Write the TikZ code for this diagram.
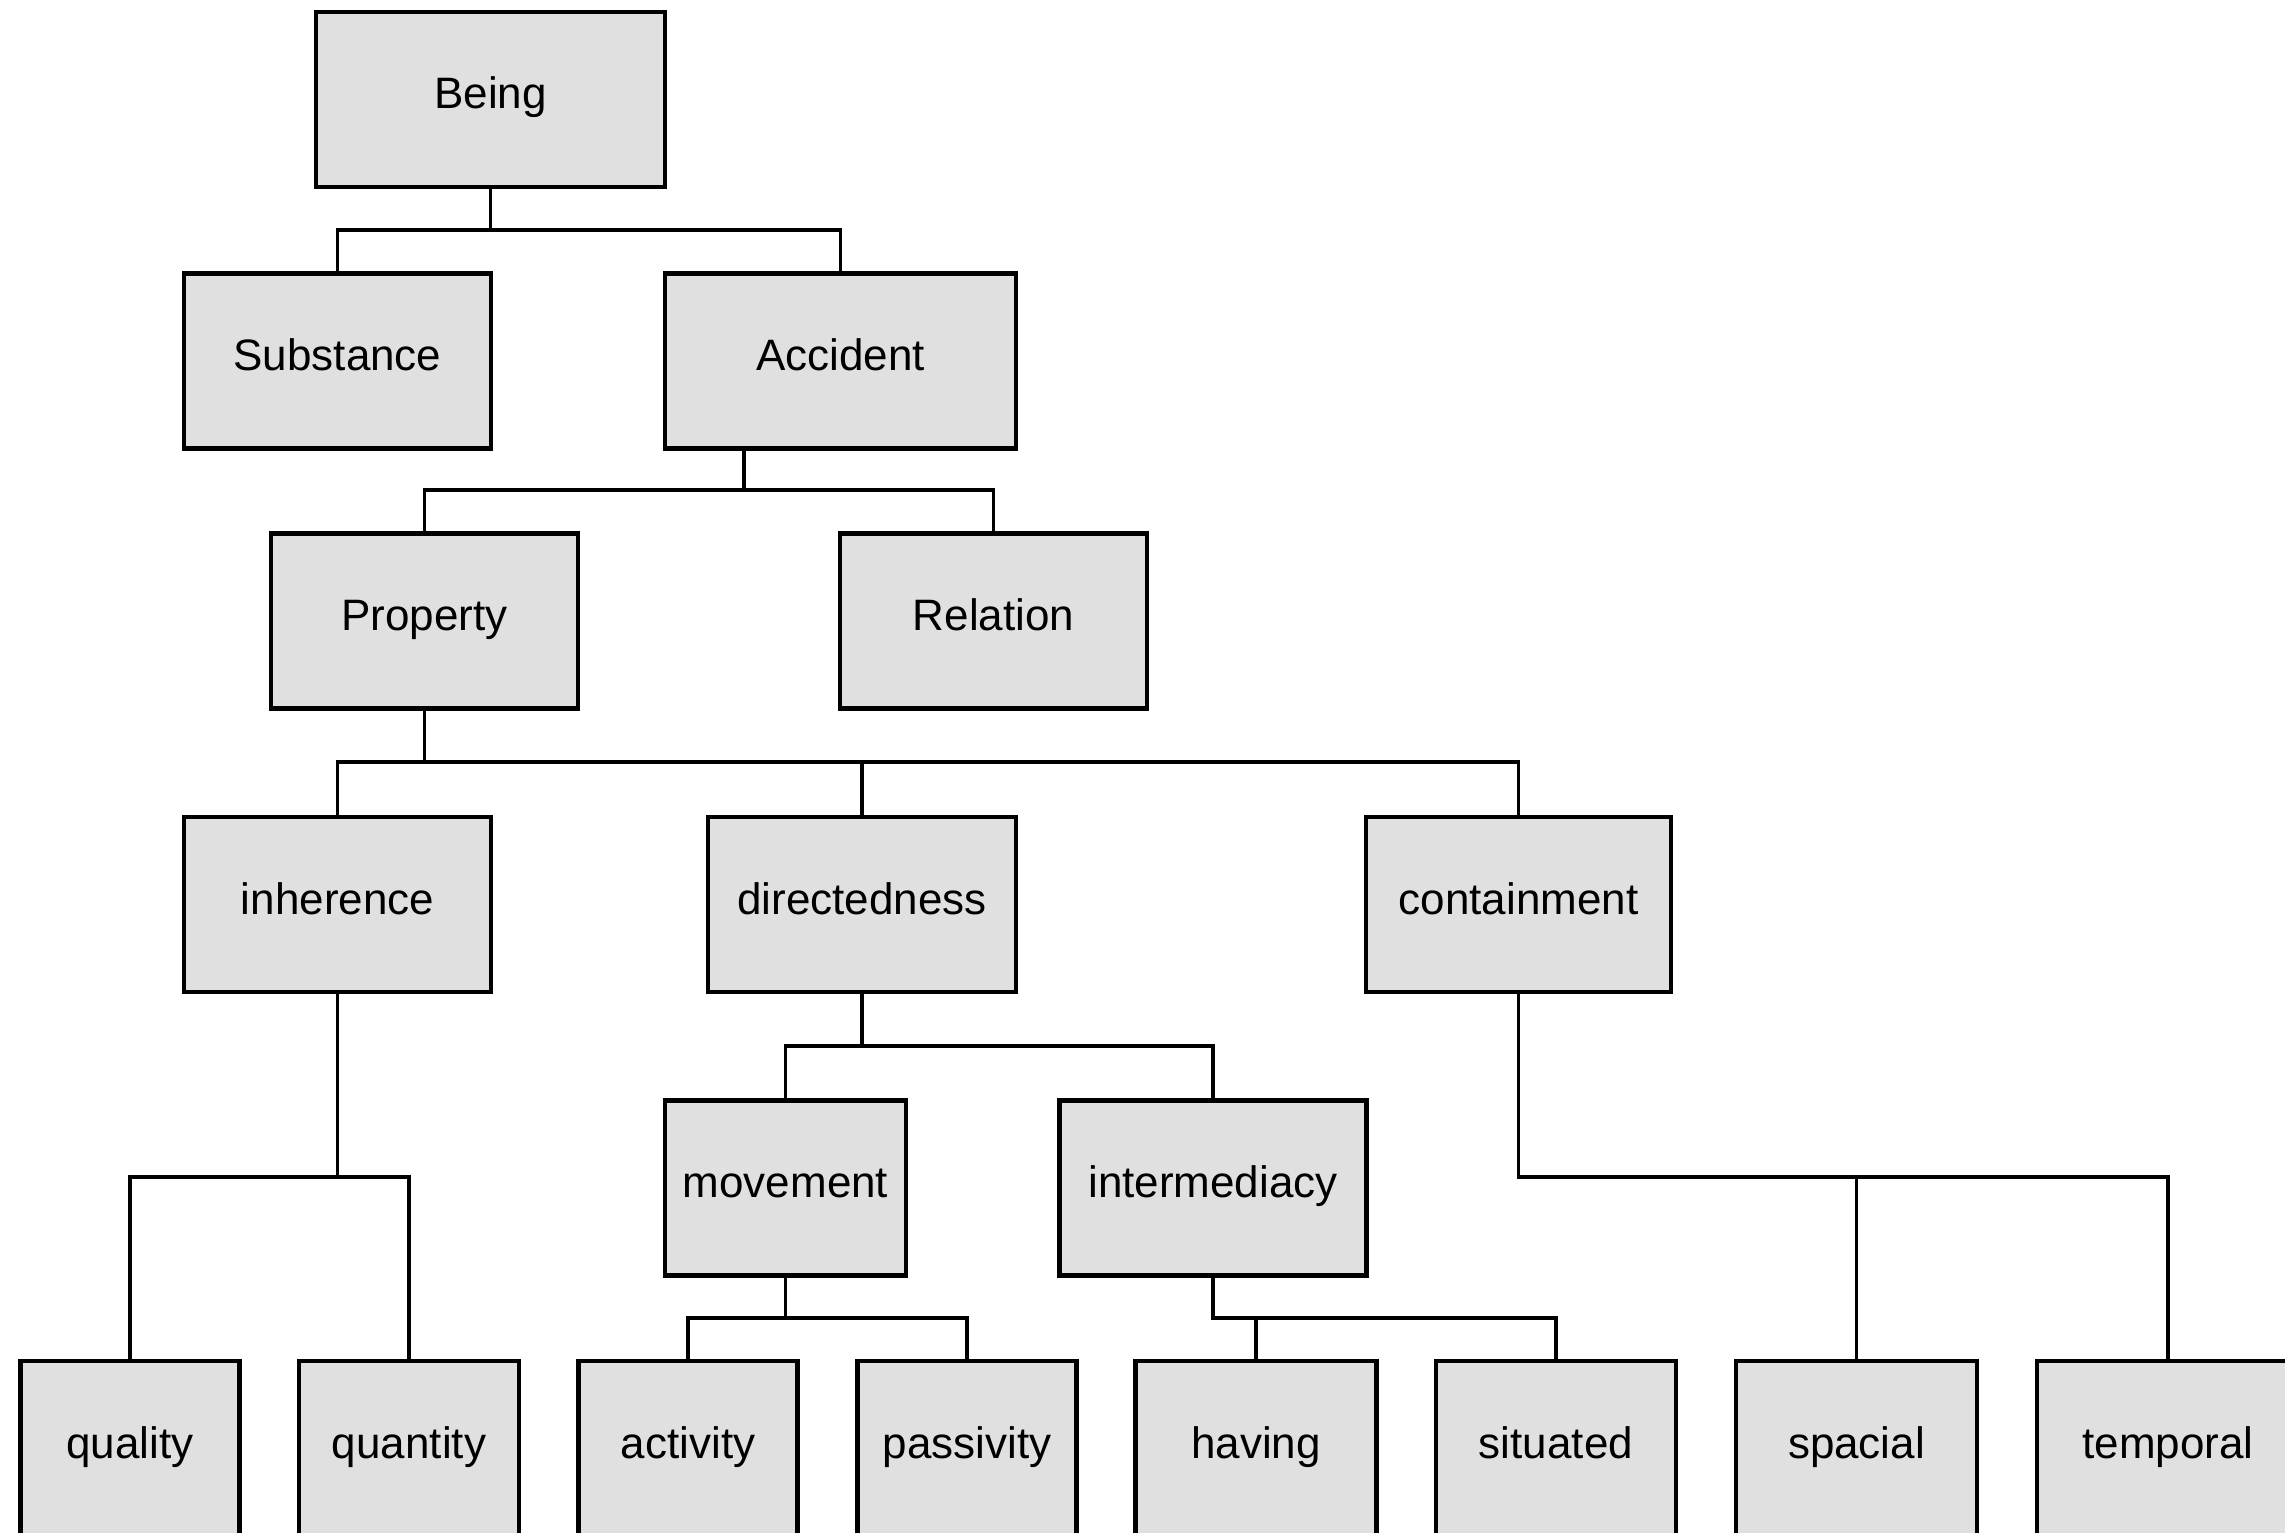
\documentclass[tikz,border=0pt]{standalone}
\usepackage{fontspec}
\setmainfont{Liberation Sans}
\begin{document}
\begin{tikzpicture}[x=1bp,y=-1bp,
  box/.style={draw=black, fill=boxgray, line width=4.2bp, rectangle,
    minimum height=175bp, inner sep=0pt, outer sep=0pt,
    text height=31bp, text depth=12bp,
    font=\fontsize{44bp}{50bp}\selectfont},
  link/.style={draw=black, line width=3.6bp, line join=miter, line cap=rect}]
\definecolor{boxgray}{HTML}{E0E0E0}
\useasboundingbox (0,0) rectangle (2285,1532);
\clip (0,0) rectangle (2285,1532);

% level 0-2
\node[box, minimum width=349bp] (being)     at (490.5,99.5) {Being};
\node[box, minimum width=307bp] (substance) at (337.5,361)  {Substance};
\node[box, minimum width=351bp] (accident)  at (840.5,361)  {Accident};
\node[box, minimum width=307bp] (property)  at (424.5,621)  {Property};
\node[box, minimum width=307bp] (relation)  at (993.5,621)  {Relation};

% level 3
\node[box, minimum width=307bp] (inherence)    at (337.5,904.5) {inherence};
\node[box, minimum width=308bp] (directedness) at (862,904.5)   {directedness};
\node[box, minimum width=305bp] (containment)  at (1518.5,904.5) {containment};

% level 4
\node[box, minimum width=241bp] (movement)     at (785.5,1188) {movement};
\node[box, minimum width=307bp] (intermediacy) at (1213,1188)  {intermediacy};

% bottom row
\node[box, minimum width=219bp] (quality)   at (130,1448.5)    {quality};
\node[box, minimum width=220bp] (quantity)  at (409,1448.5)    {quantity};
\node[box, minimum width=219bp] (activity)  at (688,1448.5)    {activity};
\node[box, minimum width=219bp] (passivity) at (967,1448.5)    {passivity};
\node[box, minimum width=241bp] (having)    at (1256,1448.5)   {having};
\node[box, minimum width=240bp] (situated)  at (1556,1448.5)   {situated};
\node[box, minimum width=241bp] (spacial)   at (1856.5,1448.5) {spacial};
\node[box, minimum width=262bp] (temporal)  at (2168,1448.5)   {temporal};

% bus levels
\coordinate (busA) at (0,230);
\coordinate (busB) at (744,490);
\coordinate (busC) at (0,762);
\coordinate (busD) at (0,1046);
\coordinate (busE) at (0,1177);
\coordinate (busF) at (0,1318);

% Being
\draw[link] (being.south) -- (being.south |- busA);
\draw[link] (substance.north) |- (accident.north |- busA) -- (accident.north);

% Accident
\draw[link] (busB |- accident.south) -- (busB);
\draw[link] (property.north) |- (relation.north |- busB) -- (relation.north);

% Property
\draw[link] (property.south) -- (property.south |- busC);
\draw[link] (inherence.north) |- (containment.north |- busC) -- (containment.north);
\draw[link] (directedness.north) -- (directedness.north |- busC);

% directedness
\draw[link] (directedness.south) -- (directedness.south |- busD);
\draw[link] (movement.north) |- (intermediacy.north |- busD) -- (intermediacy.north);

% inherence
\draw[link] (inherence.south) -- (inherence.south |- busE);
\draw[link] (quality.north) |- (quantity.north |- busE) -- (quantity.north);

% containment
\draw[link] (containment.south) |- (temporal.north |- busE) -- (temporal.north);
\draw[link] (spacial.north) -- (spacial.north |- busE);

% movement
\draw[link] (movement.south) -- (movement.south |- busF);
\draw[link] (activity.north) |- (passivity.north |- busF) -- (passivity.north);

% intermediacy
\draw[link] (intermediacy.south) |- (situated.north |- busF) -- (situated.north);
\draw[link] (having.north) -- (having.north |- busF);
\end{tikzpicture}
\end{document}
